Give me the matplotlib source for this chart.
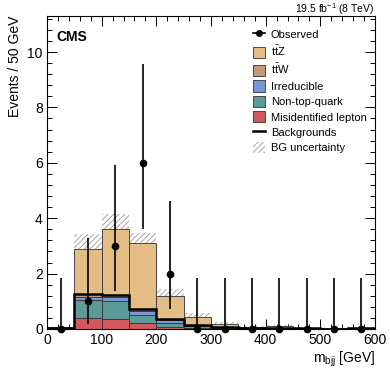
import numpy as np
import matplotlib
matplotlib.use("Agg")
import matplotlib.pyplot as plt
from matplotlib.patches import Patch
from matplotlib.lines import Line2D

plt.rcParams['font.family'] = ['Liberation Sans', 'DejaVu Sans']
plt.rcParams['mathtext.fontset'] = 'custom'
plt.rcParams['mathtext.rm'] = 'Liberation Sans'
plt.rcParams['mathtext.it'] = 'Liberation Sans'
plt.rcParams['hatch.linewidth'] = 0.6

# bin edges (GeV)
edges = [0, 50, 100, 150, 200, 250, 300, 350, 400, 450, 500, 550, 600]

# stacked predictions, bottom to top
misid = [0.02, 0.38, 0.37, 0.21, 0.08, 0.02, 0.01, 0.0, 0.0, 0.0, 0.0, 0.0]
nontop = [0.03, 0.66, 0.65, 0.29, 0.12, 0.08, 0.03, 0.03, 0.04, 0.02, 0.01, 0.04]
irreducible = [0.0, 0.12, 0.12, 0.15, 0.12, 0.02, 0.01, 0.01, 0.01, 0.01, 0.0, 0.01]
ttw = [0.0, 0.12, 0.10, 0.06, 0.05, 0.01, 0.01, 0.0, 0.0, 0.0, 0.0, 0.0]
ttz = [0.01, 1.62, 2.38, 2.41, 0.83, 0.31, 0.12, 0.04, 0.06, 0.02, 0.01, 0.0]
unc = [0.03, 0.52, 0.52, 0.36, 0.23, 0.12, 0.08, 0.03, 0.05, 0.02, 0.01, 0.02]

# observed counts with Garwood intervals
observed = [0, 1, 3, 6, 2, 0, 0, 0, 0, 0, 0, 0]
obs_lo = [0, 0.173, 1.367, 3.620, 0.708, 0, 0, 0, 0, 0, 0, 0]
obs_hi = [1.841, 3.300, 5.918, 9.584, 4.638, 1.841, 1.841, 1.841, 1.841, 1.841, 1.841, 1.841]

col_ttz = '#e3bd85'
col_ttw = '#c8977a'
col_irr = '#7696d8'
col_nt = '#5c9b98'
col_mis = '#d4585e'

fig = plt.figure(figsize=(3.9, 3.75), dpi=100)
ax = fig.add_axes([47/390, 1 - 329/375, 328/390, 313/375])

edges = np.array(edges, float)
centers = 0.5 * (edges[:-1] + edges[1:])
width = np.diff(edges)

layers = [(misid, col_mis), (nontop, col_nt), (irreducible, col_irr), (ttw, col_ttw), (ttz, col_ttz)]
bottom = np.zeros(len(centers))
for vals, c in layers:
    vals = np.array(vals)
    ax.bar(edges[:-1], vals, width=width, bottom=bottom, align='edge', color=c,
           edgecolor='#333333', linewidth=0.6, zorder=2)
    bottom = bottom + vals
total = bottom

# uncertainty band
ax.bar(edges[:-1], 2 * np.array(unc), width=width, bottom=total - np.array(unc), align='edge',
       facecolor='none', edgecolor='#999999', hatch='//////', linewidth=0, zorder=1.5)

# backgrounds line
bkg = np.array(misid) + np.array(nontop) + np.array(irreducible) + np.array(ttw)
ax.stairs(bkg, edges, color='black', linewidth=1.8, zorder=3)

# observed
obs = np.array(observed)
yerr = [obs - np.array(obs_lo), np.array(obs_hi) - obs]
ax.errorbar(centers, obs, yerr=yerr, fmt='o', color='black', ms=4.5, elinewidth=1.2,
            capsize=0, zorder=5, clip_on=False)

ax.set_xlim(0, 600)
ax.set_ylim(0, 11.3)
ax.set_xticks([0, 100, 200, 300, 400, 500, 600])
ax.set_xticks(np.arange(0, 601, 20), minor=True)
ax.set_yticks([0, 2, 4, 6, 8, 10])
ax.set_yticks(np.arange(0, 11.3, 0.4), minor=True)
ax.tick_params(which='both', direction='in', top=True, right=True, labelsize=10, pad=3)
ax.tick_params(which='major', length=7, width=0.7)
ax.tick_params(which='minor', length=3.5, width=0.7)
for s in ax.spines.values():
    s.set_linewidth(0.8)

ax.set_xlabel(r'm$_{\mathrm{bjj}}$ [GeV]', fontsize=10, loc='right', labelpad=2)
ax.set_ylabel('Events / 50 GeV', fontsize=10, loc='top', labelpad=4)

ax.text(0.03, 0.955, 'CMS', transform=ax.transAxes, fontsize=10, fontweight='bold', va='top')
fig.text(374/390, 1 - 13/375, r'19.5 fb$^{-1}$ (8 TeV)', fontsize=7.5, ha='right', va='baseline')

handles = [
    Line2D([], [], color='black', marker='o', ms=4, lw=1.2),
    Patch(facecolor=col_ttz, edgecolor='#333333', linewidth=0.6),
    Patch(facecolor=col_ttw, edgecolor='#333333', linewidth=0.6),
    Patch(facecolor=col_irr, edgecolor='#333333', linewidth=0.6),
    Patch(facecolor=col_nt, edgecolor='#333333', linewidth=0.6),
    Patch(facecolor=col_mis, edgecolor='#333333', linewidth=0.6),
    Line2D([], [], color='black', lw=1.8),
    Patch(facecolor='none', edgecolor='#999999', hatch='//////', linewidth=0),
]
labels = ['Observed', r't$\bar{\mathrm{t}}$Z', r't$\bar{\mathrm{t}}$W', 'Irreducible',
          'Non-top-quark', 'Misidentified lepton', 'Backgrounds', 'BG uncertainty']
ax.legend(handles, labels, loc='upper left', bbox_to_anchor=(0.605, 0.985), frameon=False,
          fontsize=8, handlelength=1.1, handleheight=1.2, handletextpad=0.5,
          labelspacing=0.36, borderpad=0.2)

fig.savefig('out.png', dpi=100)
